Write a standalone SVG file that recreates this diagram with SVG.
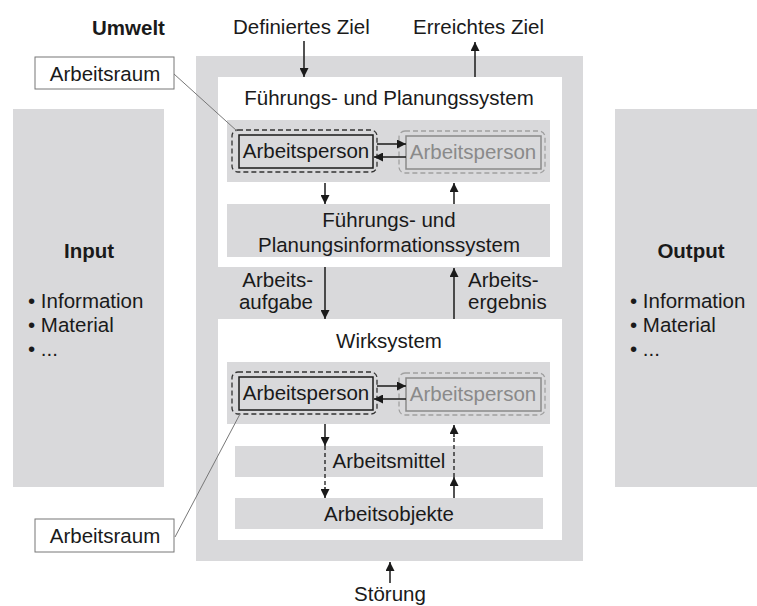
<svg xmlns="http://www.w3.org/2000/svg" width="757" height="606" viewBox="0 0 757 606">
<defs>
<marker id="ah" viewBox="0 0 10 10" refX="10" refY="5" markerWidth="10" markerHeight="9" markerUnits="userSpaceOnUse" orient="auto"><path d="M0,0 L10,5 L0,10 z" fill="#1a1a1a"/></marker>
</defs>
<style>
text{font-family:"Liberation Sans",Arial,sans-serif;font-size:20.5px;fill:#1a1a1a}
.b{font-weight:bold}
.c{text-anchor:middle}
.g{fill:#d9d9db}
.w{fill:#ffffff}
.gt{fill:#8a8a8a}
.dash{fill:none;stroke:#333;stroke-width:1.3;stroke-dasharray:5 3}
.dashg{fill:none;stroke:#a0a0a0;stroke-width:1.3;stroke-dasharray:5 3}
.solid{fill:none;stroke:#1a1a1a;stroke-width:1.5}
.solidg{fill:none;stroke:#8a8a8a;stroke-width:1.5}
.ln{stroke:#1a1a1a;stroke-width:1.5;fill:none}
.lnd{stroke:#1a1a1a;stroke-width:1.3;fill:none;stroke-dasharray:4 3}
.lead{stroke:#777;stroke-width:1;fill:none}
.lbl{fill:#fff;stroke:#777;stroke-width:1}
</style>
<rect width="757" height="606" fill="#ffffff"/>

<g id="umwelt"><text class="b" x="92" y="35" font-size="22">Umwelt</text></g>

<g id="input">
<rect class="g" x="13" y="109" width="151" height="378"/>
<text class="b c" x="89" y="258" font-size="22">Input</text>
<text x="28" y="308">• Information</text>
<text x="28" y="332">• Material</text>
<text x="28" y="356">• ...</text>
</g>

<g id="output">
<rect class="g" x="615" y="109" width="151" height="378"/>
<text class="b c" x="691" y="258" font-size="22">Output</text>
<text x="630" y="308">• Information</text>
<text x="630" y="332">• Material</text>
<text x="630" y="356">• ...</text>
</g>

<g id="frame">
<rect class="g" x="196" y="56" width="387" height="505"/>
</g>

<g id="fuehrungssystem">
<rect class="w" x="218" y="77" width="344" height="190"/>
<text class="c" x="389" y="105">Führungs- und Planungssystem</text>
<rect class="g" x="227" y="120" width="323" height="62"/>
</g>

<g id="arbeitsperson1">
<rect class="dash" x="232" y="130" width="145" height="42" rx="6"/>
<rect class="solid" x="239" y="135" width="134" height="33"/>
<text class="c" x="306" y="158">Arbeitsperson</text>
</g>

<g id="arbeitsperson2">
<rect class="dashg" x="399" y="131" width="146" height="42" rx="6"/>
<rect class="solidg" x="406" y="136" width="135" height="33"/>
<text class="c gt" x="473" y="159">Arbeitsperson</text>
</g>

<g id="fpis">
<rect class="g" x="227" y="204" width="323" height="53"/>
<text class="c" x="389" y="227">Führungs- und</text>
<text class="c" x="389" y="252">Planungsinformationssystem</text>
</g>

<g id="wirksystem">
<rect class="w" x="218" y="319" width="344" height="221"/>
<text class="c" x="389" y="348">Wirksystem</text>
<rect class="g" x="227" y="362" width="323" height="62"/>
</g>

<g id="arbeitsperson3">
<rect class="dash" x="232" y="372" width="145" height="42" rx="6"/>
<rect class="solid" x="239" y="377" width="134" height="33"/>
<text class="c" x="306" y="400">Arbeitsperson</text>
</g>

<g id="arbeitsperson4">
<rect class="dashg" x="399" y="373" width="146" height="42" rx="6"/>
<rect class="solidg" x="406" y="378" width="135" height="33"/>
<text class="c gt" x="473" y="401">Arbeitsperson</text>
</g>

<g id="arbeitsmittel">
<rect class="g" x="235" y="446" width="308" height="31"/>
<text class="c" x="389" y="468">Arbeitsmittel</text>
</g>

<g id="arbeitsobjekte">
<rect class="g" x="235" y="498" width="308" height="31"/>
<text class="c" x="389" y="521">Arbeitsobjekte</text>
</g>

<g id="labels">
<text x="233" y="34">Definiertes Ziel</text>
<text x="413" y="34">Erreichtes Ziel</text>
<text x="313" y="287" text-anchor="end">Arbeits-</text>
<text x="313" y="309" text-anchor="end">aufgabe</text>
<text x="468" y="287">Arbeits-</text>
<text x="468" y="309">ergebnis</text>
<text class="c" x="390" y="601">Störung</text>
</g>

<g id="arbeitsraum1">
<rect class="lbl" x="35" y="57" width="139" height="32"/>
<text class="c" x="105" y="81">Arbeitsraum</text>
</g>

<g id="arbeitsraum2">
<rect class="lbl" x="35" y="519" width="139" height="33"/>
<text class="c" x="105" y="543">Arbeitsraum</text>
</g>

<g id="connectors">
<line class="lead" x1="174" y1="74" x2="237" y2="131"/>
<line class="lead" x1="175" y1="537" x2="240" y2="414"/>
<line class="ln" x1="304" y1="41" x2="304" y2="77" marker-end="url(#ah)"/>
<line class="ln" x1="475" y1="77" x2="475" y2="42" marker-end="url(#ah)"/>
<line class="ln" x1="377" y1="144" x2="406" y2="144" marker-end="url(#ah)"/>
<line class="ln" x1="406" y1="157" x2="374" y2="157" marker-end="url(#ah)"/>
<line class="ln" x1="325" y1="183" x2="325" y2="204" marker-end="url(#ah)"/>
<line class="ln" x1="454" y1="204" x2="454" y2="183" marker-end="url(#ah)"/>
<line class="ln" x1="325" y1="267" x2="325" y2="319" marker-end="url(#ah)"/>
<line class="ln" x1="454" y1="319" x2="454" y2="268" marker-end="url(#ah)"/>
<line class="ln" x1="377" y1="386" x2="406" y2="386" marker-end="url(#ah)"/>
<line class="ln" x1="406" y1="399" x2="374" y2="399" marker-end="url(#ah)"/>
<line class="ln" x1="325" y1="424" x2="325" y2="446" marker-end="url(#ah)"/>
<line class="lnd" x1="325" y1="446" x2="325" y2="488"/>
<line class="ln" x1="325" y1="487" x2="325" y2="498" marker-end="url(#ah)"/>
<line class="ln" x1="454" y1="498" x2="454" y2="477" marker-end="url(#ah)"/>
<line class="lnd" x1="454" y1="477" x2="454" y2="436"/>
<line class="ln" x1="454" y1="437" x2="454" y2="425" marker-end="url(#ah)"/>
<line class="ln" x1="390" y1="583" x2="390" y2="562" marker-end="url(#ah)"/>
</g>
</svg>
